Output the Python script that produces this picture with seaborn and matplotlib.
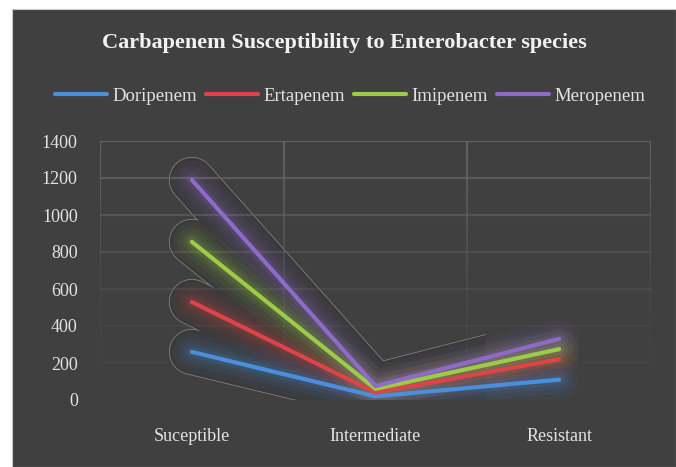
import numpy as np
import pandas as pd
import matplotlib
matplotlib.use("Agg")
import matplotlib.pyplot as plt
from matplotlib.patches import Rectangle
from matplotlib.collections import LineCollection
import seaborn as sns

# Counts of Enterobacter isolates per susceptibility category
categories = ["Suceptible", "Intermediate", "Resistant"]
doripenem = [260, 20, 110]
ertapenem = [530, 40, 220]
imipenem = [855, 60, 275]
meropenem = [1190, 75, 330]
drugs = ["Doripenem", "Ertapenem", "Imipenem", "Meropenem"]
y_ticks = [0, 200, 400, 600, 800, 1000, 1200, 1400]

colors = ["#4a8fdb", "#dc4448", "#9ccb47", "#8f6bc9"]
BG = "#404040"
TXT = "#e3e3e3"

sns.set_theme(style="dark")
plt.rcParams["font.family"] = ["Liberation Serif", "DejaVu Serif"]

df = pd.DataFrame({
    "category": categories * 4,
    "drug": np.repeat(drugs, 3),
    "count": doripenem + ertapenem + imipenem + meropenem,
})

W, H = 676, 467
fig = plt.figure(figsize=(W / 100, H / 100), dpi=100, facecolor="#ffffff")
# chart panel with a thin light border on the left and top
fig.patches.append(Rectangle((12 / W, 0), 1 - 12 / W, 1 - 9 / H,
                             transform=fig.transFigure, facecolor=BG,
                             edgecolor="#c8c8c8", linewidth=0.8, zorder=-10))

ax = fig.add_axes([100 / W, 1 - 400 / H, 551 / W, 259 / H])
ax.set_facecolor("none")
for s in ax.spines.values():
    s.set_visible(False)

x_idx = np.arange(len(categories))
df["x"] = df["category"].map({c: i for i, c in enumerate(categories)})

# horizontal gridlines fading toward the baseline
for v in y_ticks[1:]:
    a = 0.03 + 0.97 * (v / 1400) ** 1.6
    ax.axhline(v, color="#626262", lw=1.6, alpha=a, zorder=1.3)
# vertical category separators, also fading downward
for xv in [-0.5, 0.5, 1.5, 2.5]:
    ys = np.linspace(0, 1400, 40)
    segs = [[(xv, ys[i]), (xv, ys[i + 1])] for i in range(len(ys) - 1)]
    alphas = 0.02 + 0.98 * (ys[:-1] / 1400) ** 1.6
    lc = LineCollection(segs, colors=[(0.39, 0.39, 0.39, a) for a in alphas],
                        linewidths=1.6, zorder=1.3)
    ax.add_collection(lc)

series = [doripenem, ertapenem, imipenem, meropenem]
clip = Rectangle((-0.5, 0), 2.1, 1500, transform=ax.transData)

# soft shadow outline around the bundle of lines
for vals in series:
    ln, = ax.plot(x_idx, vals, color="#8a8a8a", lw=33, solid_capstyle="round",
                  solid_joinstyle="round", zorder=1.0)
    ln.set_clip_path(clip)
for vals in series:
    ln, = ax.plot(x_idx, vals, color="#3a3a3a", lw=32, solid_capstyle="round",
                  solid_joinstyle="round", zorder=1.1)
    ln.set_clip_path(clip)

# coloured glow
for vals, c in zip(series, colors):
    for lw, a in [(28, 0.06), (20, 0.07), (13, 0.09), (8, 0.12)]:
        ax.plot(x_idx, vals, color=c, lw=lw, alpha=a, solid_capstyle="round",
                solid_joinstyle="round", zorder=1.5)

sns.lineplot(data=df, x="x", y="count", hue="drug", palette=colors,
             linewidth=3, ax=ax, legend=False, zorder=3, estimator=None)
for ln in ax.get_lines()[-4:]:
    ln.set_solid_capstyle("round")

ax.set_xlim(-0.5, 2.5)
ax.set_ylim(0, 1400)
ax.set_xticks(x_idx)
ax.set_xticklabels(categories)
ax.set_yticks(y_ticks)
ax.set_yticklabels([str(v) for v in y_ticks])
ax.tick_params(axis="both", colors=TXT, labelsize=13, length=0)
ax.tick_params(axis="x", pad=20)
ax.tick_params(axis="y", pad=16)
ax.set_xlabel("")
ax.set_ylabel("")
ax.grid(False)

fig.text(0.509, 1 - 43 / H, "Carbapenem Susceptibility to Enterobacter species",
         ha="center", va="center", fontsize=16, fontweight="bold", color="#f2f2f2")

handles = [plt.Line2D([], [], color=c, lw=3) for c in colors]
leg = fig.legend(handles, drugs, loc="center", bbox_to_anchor=(0.518, 1 - 96 / H),
                 ncol=4, frameon=False, fontsize=13.5, handlelength=2.75,
                 handletextpad=0.3, columnspacing=0.5)
for t in leg.get_texts():
    t.set_color(TXT)

fig.savefig("out.png", dpi=100, facecolor=fig.get_facecolor())
